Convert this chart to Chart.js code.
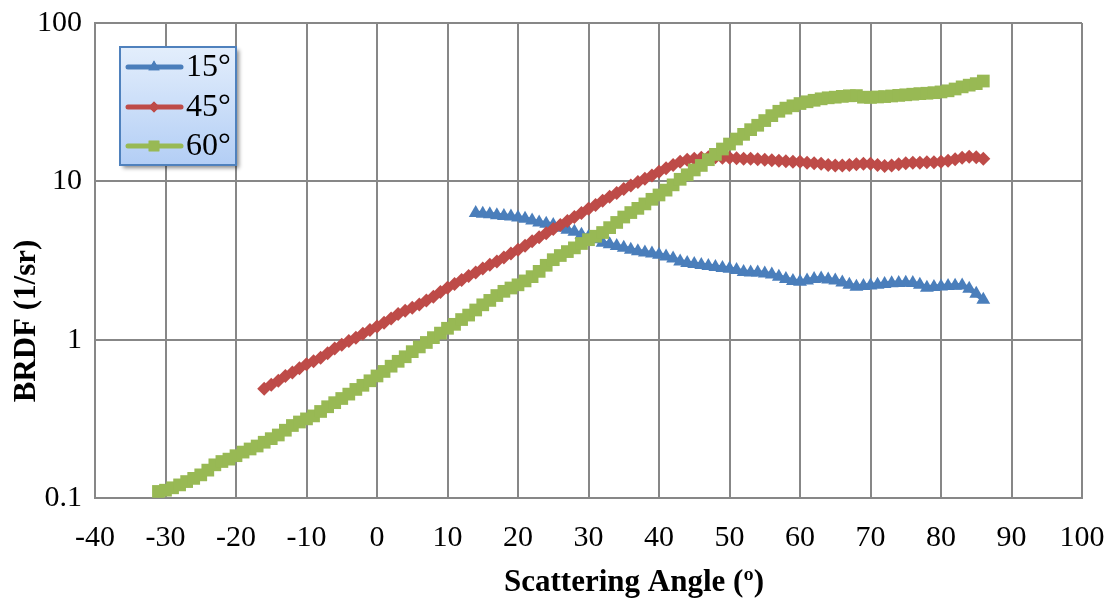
<!DOCTYPE html>
<html><head><meta charset="utf-8">
<script src="https://cdn.jsdelivr.net/npm/chart.js@4/dist/chart.umd.min.js"></script>
<style>html,body{margin:0;padding:0;background:#fff}#wrap{width:1110px;height:602px;position:relative}</style>
</head><body><div id="wrap"><canvas id="c" width="1110" height="602"></canvas></div>
<script>
const seriesLabels = ['15°', '45°', '60°'];
const xTitle = 'Scattering Angle (º)';
const yTitle = 'BRDF (1/sr)';
const xTicks = [-40,-30,-20,-10,0,10,20,30,40,50,60,70,80,90,100];
const yTicks = [0.1, 1, 10, 100];
const yTickLabels = ['0.1', '1', '10', '100'];

const angles = [
-31,-30,-29,-28,-27,-26,-25,-24,-23,-22,
-21,-20,-19,-18,-17,-16,-15,-14,-13,-12,
-11,-10,-9,-8,-7,-6,-5,-4,-3,-2,
-1,0,1,2,3,4,5,6,7,8,
9,10,11,12,13,14,15,16,17,18,
19,20,21,22,23,24,25,26,27,28,
29,30,31,32,33,34,35,36,37,38,
39,40,41,42,43,44,45,46,47,48,
49,50,51,52,53,54,55,56,57,58,
59,60,61,62,63,64,65,66,67,68,
69,70,71,72,73,74,75,76,77,78,
79,80,81,82,83,84,85,86];

const brdf15 = [
null,null,null,null,null,null,null,null,null,null,
null,null,null,null,null,null,null,null,null,null,
null,null,null,null,null,null,null,null,null,null,
null,null,null,null,null,null,null,null,null,null,
null,null,null,null,null,
6.30,6.25,6.20,6.10,6.05,6.00,5.90,5.80,5.65,5.50,
5.40,5.30,5.10,4.95,4.80,4.60,4.45,4.30,4.10,4.00,
3.90,3.80,3.70,3.62,3.55,3.50,3.44,3.35,3.25,3.12,
3.05,3.00,2.96,2.92,2.88,2.84,2.80,2.75,2.68,2.66,
2.66,2.62,2.58,2.50,2.42,2.35,2.32,2.36,2.42,2.43,
2.40,2.36,2.30,2.22,2.16,2.18,2.20,2.22,2.25,2.27,
2.28,2.29,2.28,2.22,2.13,2.15,2.17,2.18,2.19,2.20,
2.10,1.95,1.79];

const brdf45 = [
null,null,null,null,null,null,null,null,null,null,
null,null,null,null,null,
0.49,0.52,0.55,0.59,0.62,0.66,0.70,0.73,0.77,0.82,
0.88,0.93,0.98,1.03,1.09,1.15,1.21,1.28,1.36,1.45,
1.52,1.59,1.67,1.77,1.87,2.00,2.13,2.25,2.38,2.52,
2.66,2.81,2.97,3.12,3.30,3.50,3.70,3.92,4.18,4.44,
4.70,5.00,5.30,5.62,5.96,6.32,6.70,7.10,7.55,8.00,
8.45,8.95,9.40,9.90,10.4,10.9,11.5,12.1,12.7,13.3,
13.7,13.9,14.1,14.2,14.2,14.1,14.1,14.0,13.9,13.9,
13.8,13.7,13.6,13.5,13.4,13.3,13.3,13.1,13.0,12.9,
12.7,12.6,12.6,12.7,12.8,12.9,12.9,12.7,12.5,12.6,
12.8,13.0,13.1,13.1,13.2,13.2,13.3,13.5,13.8,14.1,
14.3,14.2,13.9];

const brdf60 = [
0.110,0.112,0.116,0.121,0.127,0.133,0.140,0.150,0.162,0.170,
0.176,0.185,0.195,0.204,0.213,0.225,0.237,0.250,0.268,0.287,
0.302,0.316,0.330,0.352,0.377,0.400,0.425,0.453,0.485,0.515,
0.550,0.590,0.63,0.68,0.73,0.78,0.84,0.90,0.96,1.03,
1.10,1.18,1.25,1.34,1.43,1.54,1.66,1.77,1.90,2.02,
2.12,2.22,2.35,2.50,2.70,2.95,3.20,3.40,3.60,3.80,
4.05,4.28,4.50,4.75,5.10,5.50,5.95,6.35,6.75,7.20,
7.70,8.20,8.80,9.50,10.3,11.0,11.8,12.6,13.7,14.8,
16.0,17.2,18.5,19.8,21.2,22.6,24.2,26.0,27.7,29.0,
30.0,31.0,31.8,32.5,33.2,33.7,34.0,34.4,34.7,34.8,
34.0,33.9,34.1,34.3,34.6,34.9,35.2,35.5,35.8,36.0,
36.3,36.7,37.3,38.3,39.5,40.5,41.4,43.0];

const FONT = "'Liberation Serif', 'Times New Roman', serif";
const GRID = '#878787';
const colors = ['#4a7ebb', '#be4b48', '#98b954'];
const styles = [
  {pointStyle: 'triangle', pointRadius: 8, lineWidth: 5},
  {pointStyle: 'rectRot', pointRadius: 7, lineWidth: 5},
  {pointStyle: 'rect', pointRadius: 9, lineWidth: 5}
];
const series = [brdf15, brdf45, brdf60];

function toPoints(vals) {
  const out = [];
  vals.forEach((v, i) => { if (v !== null) out.push({x: angles[i], y: v}); });
  return out;
}

const datasets = series.map((vals, i) => ({
  label: seriesLabels[i],
  data: toPoints(vals),
  borderColor: colors[i],
  backgroundColor: colors[i],
  borderWidth: styles[i].lineWidth,
  pointStyle: styles[i].pointStyle,
  pointRadius: styles[i].pointRadius,
  pointBorderWidth: 0,
  pointBackgroundColor: colors[i],
  pointHoverRadius: styles[i].pointRadius,
  tension: 0,
  order: 3 - i
}));

const extras = {
  id: 'extras',
  afterDraw(chart) {
    const ctx = chart.ctx;
    ctx.save();
    ctx.fillStyle = '#000';
    ctx.font = "bold 31px " + FONT;
    ctx.textAlign = 'center';
    ctx.textBaseline = 'middle';
    ctx.fillText(xTitle, 634, 583);
    ctx.save();
    ctx.translate(27, 321);
    ctx.rotate(-Math.PI / 2);
    ctx.fillText(yTitle, 0, 0);
    ctx.restore();

    const bx = 120, by = 47, bw = 116, bh = 118;
    ctx.save();
    ctx.shadowColor = 'rgba(0,0,0,0.45)';
    ctx.shadowBlur = 4;
    ctx.shadowOffsetX = 3;
    ctx.shadowOffsetY = 3;
    const g = ctx.createLinearGradient(0, by, 0, by + bh);
    g.addColorStop(0, '#e3eefc');
    g.addColorStop(1, '#b3cef5');
    ctx.fillStyle = g;
    ctx.fillRect(bx, by, bw, bh);
    ctx.restore();
    ctx.strokeStyle = '#4f81bd';
    ctx.lineWidth = 2;
    ctx.strokeRect(bx, by, bw, bh);

    const rows = [67, 107, 146];
    chart.data.datasets.forEach((ds, i) => {
      const y = rows[i];
      ctx.strokeStyle = ds.borderColor;
      ctx.lineWidth = 5;
      ctx.lineCap = 'round';
      ctx.beginPath();
      ctx.moveTo(128, y);
      ctx.lineTo(181, y);
      ctx.stroke();
      ctx.fillStyle = ds.borderColor;
      Chart.helpers.drawPoint(ctx, {pointStyle: ds.pointStyle, radius: ds.pointRadius - 1.5, borderWidth: 0, rotation: 0}, 154, y);
      ctx.fill();
      ctx.fillStyle = '#000';
      ctx.font = "32px " + FONT;
      ctx.textAlign = 'left';
      ctx.textBaseline = 'middle';
      ctx.fillText(ds.label, 186, y + 1);
    });
    ctx.restore();
  }
};

function noPad(s) { s.paddingLeft = 0; s.paddingRight = 0; s.paddingTop = 0; s.paddingBottom = 0; }

new Chart(document.getElementById('c'), {
  type: 'line',
  data: {datasets},
  options: {
    responsive: false,
    animation: false,
    events: [],
    layout: {padding: {left: 0, right: 28, top: 23, bottom: 0}},
    plugins: {legend: {display: false}, tooltip: {enabled: false}},
    scales: {
      x: {
        type: 'linear', min: -40, max: 100,
        afterBuildTicks(s) { s.ticks = xTicks.map(v => ({value: v})); },
        ticks: {color: '#000', font: {family: FONT, size: 30}, padding: 22, maxRotation: 0, autoSkip: false},
        grid: {color: GRID, lineWidth: 2, drawTicks: false},
        border: {color: GRID, width: 2},
        afterFit(s) { s.height = 104; noPad(s); }
      },
      y: {
        type: 'logarithmic', min: 0.1, max: 100,
        afterBuildTicks(s) { s.ticks = yTicks.map(v => ({value: v})); },
        ticks: {color: '#000', font: {family: FONT, size: 30}, padding: 13, autoSkip: false,
          callback(v) { const k = yTicks.indexOf(v); return k >= 0 ? yTickLabels[k] : ''; }},
        grid: {color: GRID, lineWidth: 2, drawTicks: false},
        border: {color: GRID, width: 2},
        afterFit(s) { s.width = 95; noPad(s); }
      }
    }
  },
  plugins: [extras]
});
</script>
</body></html>
